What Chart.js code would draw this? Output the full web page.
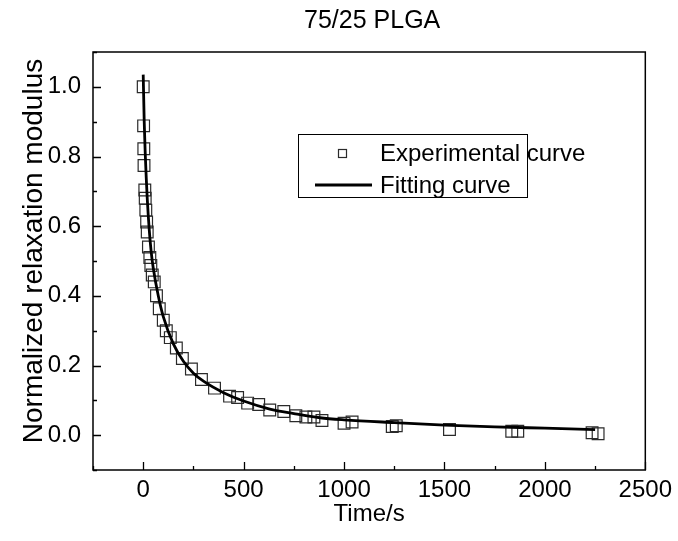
<!DOCTYPE html>
<html>
<head>
<meta charset="utf-8">
<script src="https://cdn.jsdelivr.net/npm/chart.js@4.4.1/dist/chart.umd.min.js"></script>
<style>
  html, body { margin: 0; padding: 0; background: #fff; }
  #wrap { width: 678px; height: 541px; }
</style>
</head>
<body>
<div id="wrap"><canvas id="relax-chart"></canvas></div>
<script>
/*global Chart*/

const chartTitle = "75/25 PLGA";
const xTitle = "Time/s";
const yTitle = "Normalized relaxation modulus";
const legendLabels = ["Experimental curve", "Fitting curve"];
const xTickValues = [0, 500, 1000, 1500, 2000, 2500];
const yTickValues = [0.0, 0.2, 0.4, 0.6, 0.8, 1.0];

// experimental points
const expTime = [0, 2, 3, 4, 8, 10, 13, 17, 20, 26, 33, 38, 45, 55, 66, 80, 100, 115, 135, 165,
  195, 240, 290, 355, 430, 470, 520, 575, 630, 700, 760, 810, 850, 890, 1000, 1040, 1240, 1260,
  1525, 1835, 1865, 2235, 2265];
const expModulus = [1.0, 0.888, 0.822, 0.774, 0.704, 0.68, 0.646, 0.612, 0.583, 0.54, 0.51, 0.487,
  0.46, 0.44, 0.40, 0.363, 0.33, 0.30, 0.28, 0.25, 0.22, 0.19, 0.16, 0.135, 0.112, 0.108, 0.092,
  0.088, 0.072, 0.068, 0.056, 0.052, 0.052, 0.042, 0.034, 0.038, 0.025, 0.027, 0.016, 0.011, 0.011,
  0.007, 0.004];

// fitting curve
const fitTime = [0, 5, 10, 15, 20, 30, 40, 50, 75, 100, 150, 200, 250, 300, 400, 500, 630, 750,
  880, 1000, 1250, 1500, 1750, 2000, 2250];
const fitModulus = [1.035, 0.90, 0.81, 0.74, 0.68, 0.59, 0.525, 0.48, 0.40, 0.34, 0.262, 0.212,
  0.178, 0.155, 0.122, 0.098, 0.075, 0.062, 0.05, 0.044, 0.036, 0.029, 0.024, 0.02, 0.016];

const FONT = "'Liberation Sans', Arial, sans-serif";

// axes box, inward ticks, titles and legend in the Origin style
const frameStuff = {
  id: "frameStuff",
  afterDatasetsDraw(chart) {
    const { ctx, chartArea: a, scales } = chart;
    const xs = scales.x, ys = scales.y;
    ctx.save();
    ctx.strokeStyle = "#000";
    ctx.lineWidth = 1.5;
    ctx.strokeRect(a.left, a.top, a.right - a.left, a.bottom - a.top);

    ctx.lineWidth = 1.3;
    ctx.beginPath();
    for (let v = -250; v <= 2500; v += 250) {
      const px = Math.round(xs.getPixelForValue(v)) + 0.5;
      const len = v % 500 === 0 ? 8 : 4;
      ctx.moveTo(px, a.bottom);
      ctx.lineTo(px, a.bottom - len);
    }
    for (let i = -1; i <= 11; i++) {
      const py = Math.round(ys.getPixelForValue(i / 10)) + 0.5;
      const len = i % 2 === 0 ? 8 : 4;
      ctx.moveTo(a.left, py);
      ctx.lineTo(a.left + len, py);
    }
    ctx.stroke();

    // chart title
    ctx.fillStyle = "#000";
    ctx.font = "25px " + FONT;
    ctx.textAlign = "center";
    ctx.textBaseline = "middle";
    ctx.fillText(chartTitle, (a.left + a.right) / 2 + 3, 21);

    // y axis title, a bit above the axis middle like the original
    ctx.save();
    ctx.translate(34, 251);
    ctx.rotate(-Math.PI / 2);
    ctx.font = "28px " + FONT;
    ctx.fillText(yTitle, 0, 0);
    ctx.restore();

    // legend (text runs past the box, as in the original)
    const lx = 298, ly = 134, lw = 229, lh = 63;
    ctx.lineWidth = 1;
    ctx.strokeRect(lx + 0.5, ly + 0.5, lw, lh);
    const ds = chart.data.datasets;
    ctx.lineWidth = ds[0].borderWidth;
    ctx.strokeStyle = ds[0].borderColor;
    ctx.strokeRect(338.5, 149.5, 8, 8);
    ctx.lineWidth = ds[1].borderWidth;
    ctx.strokeStyle = ds[1].borderColor;
    ctx.beginPath();
    ctx.moveTo(315, 185);
    ctx.lineTo(372, 185);
    ctx.stroke();
    ctx.font = "24px " + FONT;
    ctx.textAlign = "left";
    ctx.fillText(legendLabels[0], 380, 154);
    ctx.fillText(legendLabels[1], 380, 186);
    ctx.restore();
  },
};

const ctx = document.getElementById("relax-chart").getContext("2d");

new Chart(ctx, {
  type: "scatter",
  plugins: [frameStuff],
  data: {
    datasets: [
      {
        label: legendLabels[0],
        data: expTime.map((t, i) => ({ x: t, y: expModulus[i] })),
        pointStyle: "rect",
        pointRadius: 8.3,
        borderColor: "#2a2a2a",
        borderWidth: 1.2,
        backgroundColor: "rgba(0,0,0,0)",
        order: 1,
      },
      {
        label: legendLabels[1],
        data: fitTime.map((t, i) => ({ x: t, y: fitModulus[i] })),
        showLine: true,
        pointRadius: 0,
        borderColor: "#000000",
        borderWidth: 2.8,
        cubicInterpolationMode: "monotone",
        order: 0,
      },
    ],
  },
  options: {
    responsive: true,
    maintainAspectRatio: false,
    animation: false,
    devicePixelRatio: 1,
    layout: {
      padding: { top: 52, right: 29, left: 0, bottom: 0 },
    },
    scales: {
      x: {
        type: "linear",
        min: -250,
        max: 2500,
        afterBuildTicks: (s) => { s.ticks = xTickValues.map((v) => ({ value: v })); },
        afterFit: (s) => { s.height = 71; },
        grid: { display: false, drawTicks: false },
        border: { display: false },
        ticks: {
          padding: 6,
          color: "#000",
          font: { family: FONT, size: 24 },
          callback: (v) => String(v),
        },
        title: {
          display: true,
          text: xTitle,
          color: "#000",
          font: { family: FONT, size: 24 },
          padding: { top: 0, bottom: 12 },
        },
      },
      y: {
        min: -0.1,
        max: 1.1,
        afterBuildTicks: (s) => { s.ticks = yTickValues.map((v) => ({ value: v })); },
        afterFit: (s) => { s.width = 93; },
        grid: { display: false, drawTicks: false },
        border: { display: false },
        ticks: {
          padding: 12,
          color: "#000",
          font: { family: FONT, size: 24 },
          callback: (v) => v.toFixed(1),
        },
        title: { display: false },
      },
    },
    plugins: {
      legend: { display: false },
      tooltip: { enabled: false },
    },
  },
});
</script>
</body>
</html>
